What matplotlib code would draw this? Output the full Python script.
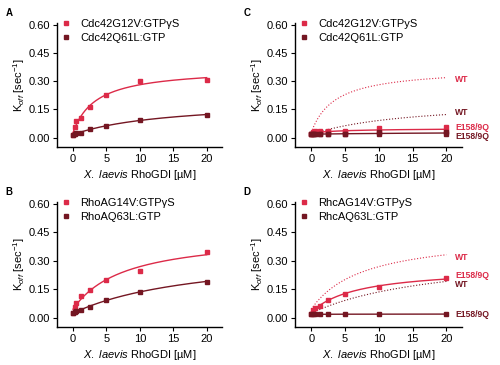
import numpy as np
import matplotlib
matplotlib.use("Agg")
import matplotlib.pyplot as plt

plt.rcParams['font.family'] = ['Liberation Sans', 'DejaVu Sans']
plt.rcParams['mathtext.fontset'] = 'custom'
plt.rcParams['mathtext.rm'] = 'Liberation Sans'
plt.rcParams['mathtext.it'] = 'Liberation Sans:italic'

RED = '#dc2a48'
DARK = '#741622'

# ---- data ----
x_conc = [0, 0.25, 0.5, 1.25, 2.5, 5, 10, 20]

cdc42_g12v_wt = [0.016, 0.057, 0.087, 0.105, 0.163, 0.228, 0.300, 0.308]
cdc42_q61l_wt = [0.016, 0.020, 0.023, 0.027, 0.046, 0.060, 0.094, 0.122]
rhoa_g14v_wt = [0.025, 0.057, 0.078, 0.113, 0.147, 0.200, 0.245, 0.345]
rhoa_q63l_wt = [0.025, 0.028, 0.032, 0.038, 0.055, 0.095, 0.136, 0.190]

# E158/9Q mutants (two replicates in panel C)
cdc42_g12v_mut_a = [0.018, 0.030, 0.033, 0.035, 0.033, 0.035, 0.052, 0.056]
cdc42_g12v_mut_b = [0.018, 0.026, 0.030, 0.030, 0.030, 0.030, 0.030, 0.035]
cdc42_q61l_mut_a = [0.018, 0.020, 0.020, 0.020, 0.020, 0.020, 0.030, 0.030]
cdc42_q61l_mut_b = [0.018, 0.018, 0.018, 0.018, 0.018, 0.018, 0.018, 0.018]
rhoa_g14v_mut = [0.021, 0.040, 0.050, 0.062, 0.095, 0.126, 0.161, 0.207]
rhoa_q63l_mut = [0.017, 0.017, 0.017, 0.017, 0.017, 0.018, 0.018, 0.018]

legend_A = ['Cdc42G12V:GTP\u03b3S', 'Cdc42Q61L:GTP']
legend_B = ['RhoAG14V:GTP\u03b3S', 'RhoAQ63L:GTP']
legend_C = ['Cdc42G12V:GTPyS', 'Cdc42Q61L:GTP']
legend_D = ['RhcAG14V:GTPyS', 'RhcAQ63L:GTP']
xticks = [0, 5, 10, 15, 20]
yticks = [0.00, 0.15, 0.30, 0.45, 0.60]


def hyper_fit(x, y):
    x = np.asarray(x, float)
    y = np.asarray(y, float)
    best = None
    for K in np.linspace(0.05, 60, 1200):
        A = np.column_stack([np.ones_like(x), x / (K + x)])
        coef, *_ = np.linalg.lstsq(A, y, rcond=None)
        r = np.sum((A @ coef - y) ** 2)
        if best is None or r < best[0]:
            best = (r, K, coef)
    _, K, (y0, V) = best
    xs = np.linspace(0, 20, 200)
    return xs, y0 + V * xs / (K + xs)


fig = plt.figure(figsize=(5, 3.65), dpi=100)
W, H = 500, 365


def make_ax(left, top, right, bottom):
    return fig.add_axes([left / W, 1 - bottom / H, (right - left) / W, (bottom - top) / H])


axA = make_ax(57, 23, 222, 147)
axC = make_ax(295, 23, 462, 147)
axB = make_ax(57, 202, 222, 327)
axD = make_ax(295, 202, 462, 327)


def style(ax, letter, leg):
    ax.set_xlim(-2.4, 22.3)
    ax.set_ylim(-0.05, 0.61)
    ax.set_xticks(xticks)
    ax.set_yticks(yticks)
    ax.set_yticklabels([f'{v:.2f}' for v in yticks])
    for s in ['top', 'right']:
        ax.spines[s].set_visible(False)
    for s in ['left', 'bottom']:
        ax.spines[s].set_linewidth(1.0)
    ax.tick_params(labelsize=8, length=3, width=0.8, pad=2)
    ax.set_xlabel('$\\it{X.\\ laevis}$ RhoGDI [\u00b5M]', fontsize=8, labelpad=3)
    ax.set_ylabel(r'K$_{off}$ [sec$^{-1}$]', fontsize=8, labelpad=1)
    ax.text(-0.31, 1.12, letter, transform=ax.transAxes, fontsize=7, fontweight='bold',
            va='top', ha='left')
    h1, = ax.plot([], [], 's', color=RED, ms=2.3)
    h2, = ax.plot([], [], 's', color=DARK, ms=2.3)
    ax.legend([h1, h2], leg, loc='upper left', bbox_to_anchor=(0.0, 1.07), frameon=False,
              fontsize=8, handlelength=0.8, handletextpad=0.9, labelspacing=0.35,
              borderaxespad=0.0)


def data_panel(ax, series):
    for ys_list, c in series:
        xall = np.concatenate([x_conc for _ in ys_list])
        yall = np.concatenate(ys_list)
        xs, ys = hyper_fit(xall, yall)
        ax.plot(xs, ys, '-', color=c, lw=1.0)
        for y in ys_list:
            ax.plot(x_conc, y, 's', color=c, ms=2.3)


style(axA, 'A', legend_A)
data_panel(axA, [([cdc42_g12v_wt], RED), ([cdc42_q61l_wt], DARK)])
style(axB, 'B', legend_B)
data_panel(axB, [([rhoa_g14v_wt], RED), ([rhoa_q63l_wt], DARK)])

style(axC, 'C', legend_C)
style(axD, 'D', legend_D)
for ax, wr, wd, series, labs in [
    (axC, cdc42_g12v_wt, cdc42_q61l_wt,
     [([cdc42_g12v_mut_a, cdc42_g12v_mut_b], RED), ([cdc42_q61l_mut_a, cdc42_q61l_mut_b], DARK)],
     [(0.31, RED, 'WT'), (0.133, DARK, 'WT'), (0.052, RED, 'E158/9Q'), (0.006, DARK, 'E158/9Q')]),
    (axD, rhoa_g14v_wt, rhoa_q63l_wt,
     [([rhoa_g14v_mut], RED), ([rhoa_q63l_mut], DARK)],
     [(0.316, RED, 'WT'), (0.222, RED, 'E158/9Q'), (0.172, DARK, 'WT'), (0.016, DARK, 'E158/9Q')]),
]:
    for y, c in [(wr, RED), (wd, DARK)]:
        xs, ys = hyper_fit(x_conc, y)
        ax.plot(xs, ys, ':', color=c, lw=0.8)
    data_panel(ax, series)
    for yv, c, t in labs:
        ax.text(21.3, yv, t, color=c, fontsize=6.2, fontweight='bold', va='center', ha='left',
                clip_on=False)

fig.savefig('out.png', dpi=100)
